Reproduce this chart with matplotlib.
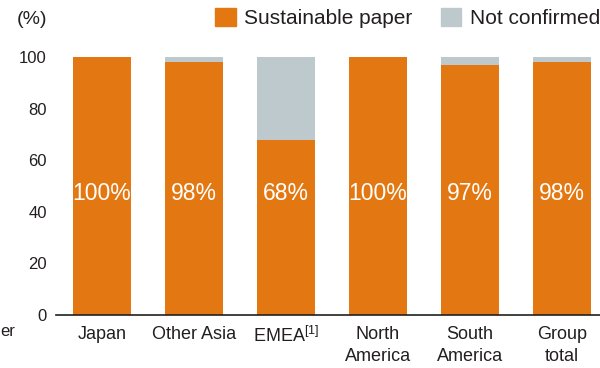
import matplotlib
matplotlib.use("Agg")
import matplotlib.pyplot as plt
from matplotlib.patches import Patch

plt.rcParams['font.family'] = ['Liberation Sans', 'DejaVu Sans']
plt.rcParams['mathtext.fontset'] = 'custom'
plt.rcParams['mathtext.rm'] = 'Liberation Sans'

# data
regions = ["Japan", "Other Asia", "EMEA$^{\\mathrm{[1]}}$", "North\nAmerica", "South\nAmerica", "Group\ntotal"]
sustainable = [100, 98, 68, 100, 97, 98]
not_confirmed = [0, 2, 32, 0, 3, 2]
pct_labels = ["100%", "98%", "68%", "100%", "97%", "98%"]
yticks = [0, 20, 40, 60, 80, 100]

orange = "#E37812"
grey = "#BDC9CD"
txt = "#231F20"

fig = plt.figure(figsize=(6, 3.68), dpi=100)
ax = fig.add_axes([56 / 600, 1 - 315 / 368, 544 / 600, 258 / 368])

x = range(len(regions))
ax.bar(x, sustainable, width=0.63, color=orange)
ax.bar(x, not_confirmed, width=0.63, bottom=sustainable, color=grey)

for i, lab in enumerate(pct_labels):
    ax.text(i, 47, lab, ha="center", va="center", color="white", fontsize=16.5)

ax.set_xlim(-0.5, 5.413)
ax.set_ylim(0, 100)
ax.set_yticks(yticks)
ax.set_xticks(list(x))
ax.set_xticklabels(regions, fontsize=13, color=txt, linespacing=1.4)
ax.tick_params(axis="y", length=0, pad=6.5, labelsize=12, labelcolor=txt)
ax.tick_params(axis="x", length=0, pad=8)
for s in ["top", "right", "left"]:
    ax.spines[s].set_visible(False)
ax.spines["bottom"].set_color(txt)
ax.spines["bottom"].set_linewidth(1.2)

fig.text(17 / 600, 1 - 19 / 368, "(%)", fontsize=14, color=txt, va="center", ha="left")
fig.text(0, 1 - 331 / 368, "er", fontsize=12, color=txt, va="center", ha="left")

handles = [Patch(color=orange, label="Sustainable paper"), Patch(color=grey, label="Not confirmed")]
fig.legend(handles=handles, loc="center right", bbox_to_anchor=(1.0, 1 - 18 / 368), ncol=2,
           frameon=False, fontsize=15, handlelength=1.0, handleheight=1.0,
           handletextpad=0.4, columnspacing=1.35, borderaxespad=0, borderpad=0,
           labelcolor=txt)

fig.savefig("out.png", dpi=100)
